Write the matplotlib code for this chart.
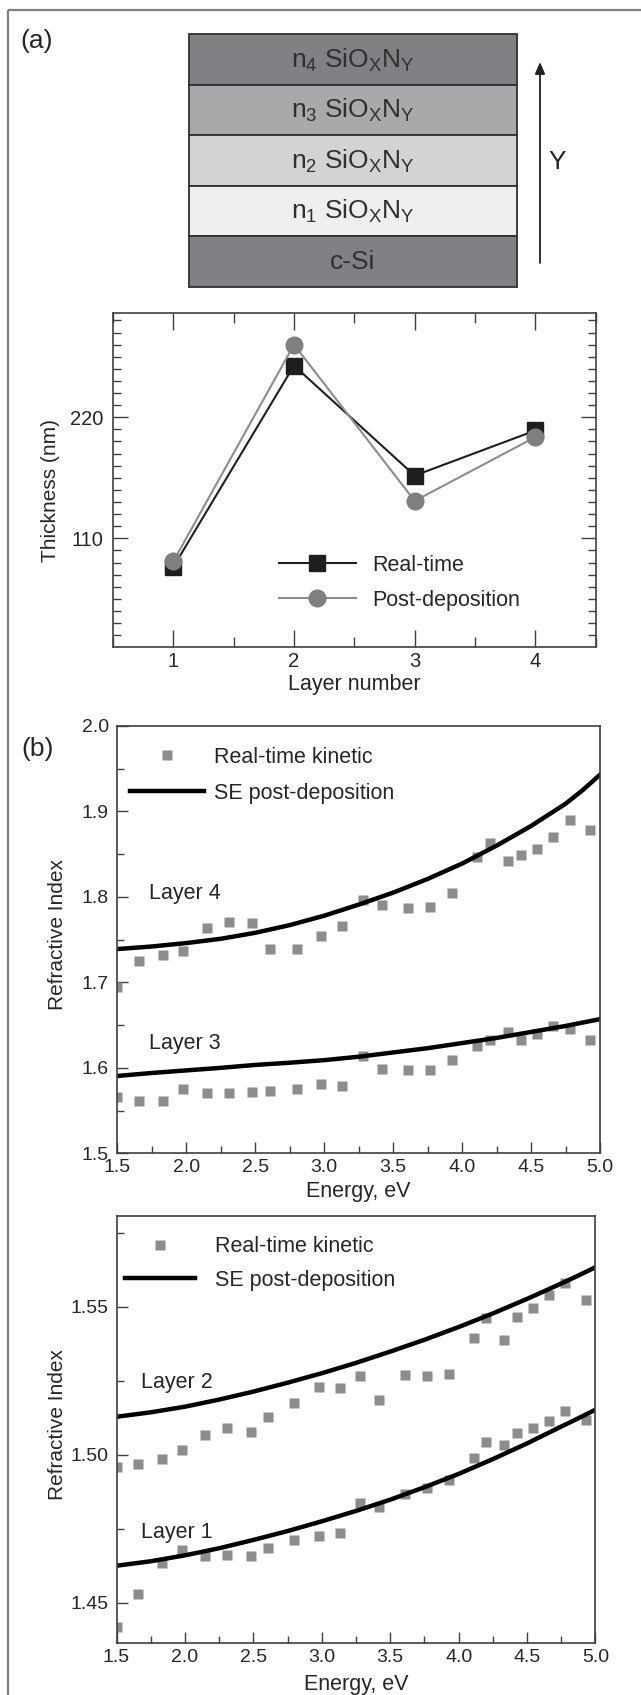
import numpy as np
import matplotlib
matplotlib.use("Agg")
import matplotlib.pyplot as plt
from matplotlib.patches import Rectangle
from matplotlib.ticker import MultipleLocator, FormatStrFormatter

plt.rcParams['font.family'] = ['Liberation Sans', 'DejaVu Sans']
plt.rcParams['mathtext.fontset'] = 'custom'
plt.rcParams['mathtext.rm'] = 'Liberation Sans'
plt.rcParams['mathtext.it'] = 'Liberation Sans:italic'

# ---------------------------------------------------------
# DATA
# ---------------------------------------------------------

stack_labels = [r"n$_4$ SiO$_\mathrm{X}$N$_\mathrm{Y}$",
                r"n$_3$ SiO$_\mathrm{X}$N$_\mathrm{Y}$",
                r"n$_2$ SiO$_\mathrm{X}$N$_\mathrm{Y}$",
                r"n$_1$ SiO$_\mathrm{X}$N$_\mathrm{Y}$",
                "c-Si"]
stack_colors = ["#808184", "#a8a9ab", "#d2d3d5", "#efefef", "#808184"]

layer_num = [1, 2, 3, 4]
thk_realtime = [84, 267, 167, 208]
thk_post = [89, 286, 144, 202]

# real-time kinetic energies (eV)
e_rt = [1.50, 1.66, 1.83, 1.98, 2.15, 2.31, 2.48, 2.61, 2.80, 2.98, 3.13, 3.28,
        3.42, 3.61, 3.77, 3.93, 4.11, 4.20, 4.33, 4.43, 4.54, 4.66, 4.78, 4.93]
n_rt_l4 = [1.695, 1.725, 1.732, 1.737, 1.764, 1.771, 1.770, 1.739, 1.739, 1.754,
           1.766, 1.796, 1.791, 1.787, 1.788, 1.805, 1.847, 1.863, 1.842, 1.849,
           1.856, 1.870, 1.890, 1.878]
n_rt_l3 = [1.566, 1.561, 1.561, 1.575, 1.571, 1.571, 1.572, 1.573, 1.575, 1.581,
           1.579, 1.614, 1.599, 1.598, 1.597, 1.609, 1.625, 1.632, 1.642, 1.633,
           1.640, 1.649, 1.646, 1.633]
n_rt_l2 = [1.4960, 1.4967, 1.4984, 1.5016, 1.5065, 1.5091, 1.5077, 1.5128, 1.5176,
           1.5230, 1.5226, 1.5266, 1.5185, 1.5269, 1.5267, 1.5273, 1.5393, 1.5461,
           1.5387, 1.5466, 1.5494, 1.5539, 1.5579, 1.5523]
n_rt_l1 = [1.4419, 1.4528, 1.4633, 1.4678, 1.4658, 1.4661, 1.4658, 1.4686, 1.4712,
           1.4725, 1.4734, 1.4836, 1.4824, 1.4867, 1.4886, 1.4914, 1.4990, 1.5044,
           1.5033, 1.5072, 1.5091, 1.5115, 1.5148, 1.5117]

# SE post-deposition curves
e_se = [1.50, 1.75, 2.00, 2.25, 2.50, 2.75, 3.00, 3.25, 3.50, 3.75, 4.00, 4.25,
        4.50, 4.75, 4.875, 5.00]
n_se_l4 = [1.739, 1.742, 1.746, 1.751, 1.758, 1.767, 1.778, 1.791, 1.805, 1.821,
           1.839, 1.860, 1.883, 1.909, 1.925, 1.943]
n_se_l3 = [1.5905, 1.594, 1.597, 1.600, 1.6034, 1.606, 1.609, 1.613, 1.618, 1.623,
           1.629, 1.635, 1.642, 1.649, 1.653, 1.657]
n_se_l2 = [1.5128, 1.5143, 1.5162, 1.5186, 1.5213, 1.5243, 1.5275, 1.5310, 1.5348,
           1.5388, 1.5431, 1.5477, 1.5526, 1.5578, 1.5605, 1.5633]
n_se_l1 = [1.4625, 1.4640, 1.4660, 1.4684, 1.4712, 1.4742, 1.4775, 1.4810, 1.4848,
           1.4890, 1.4935, 1.4985, 1.5038, 1.5095, 1.5123, 1.5152]

# ---------------------------------------------------------
# FIGURE
# ---------------------------------------------------------

W, H = 641, 1695
fig = plt.figure(figsize=(W / 100, H / 100), dpi=100)

spine_c = "#404040"
txt_c = "#262626"
sq_gray = "#8c8c8c"


def px_axes(left, top, right, bottom):
    return fig.add_axes([left / W, 1 - bottom / H, (right - left) / W, (bottom - top) / H])


def style_axes(ax, lab=14):
    for s in ax.spines.values():
        s.set_color(spine_c)
        s.set_linewidth(1.2)
    ax.tick_params(which='both', direction='in', color=spine_c, labelsize=lab,
                   labelcolor=txt_c, width=1.0)
    ax.tick_params(which='major', length=8)
    ax.tick_params(which='minor', length=5)


# overlay for schematic and frame
ov = fig.add_axes([0, 0, 1, 1], zorder=-1)
ov.set_xlim(0, W)
ov.set_ylim(H, 0)
ov.axis('off')
ov.plot([8, 8], [10, H], color="#808080", lw=1.6, solid_capstyle='butt')
ov.plot([8, W], [10, 10], color="#808080", lw=1.6, solid_capstyle='butt')
ov.text(37, 41, "(a)", fontsize=19, ha='center', va='center', color=txt_c)
ov.text(38, 749, "(b)", fontsize=19, ha='center', va='center', color=txt_c)

st_left, st_right, st_top, st_h = 189, 517, 34, 50.5
for i, (lab, col) in enumerate(zip(stack_labels, stack_colors)):
    y0 = st_top + i * st_h
    ov.add_patch(Rectangle((st_left, y0), st_right - st_left, st_h, facecolor=col,
                           edgecolor="#303030", lw=1.3))
    ov.text((st_left + st_right) / 2, y0 + st_h / 2 + 1, lab, fontsize=19,
            ha='center', va='center', color="#303030")
ov.annotate("", xy=(540, 62), xytext=(540, 263),
            arrowprops=dict(arrowstyle='-|>,head_length=0.7,head_width=0.3',
                            color="#202020", lw=1.3, shrinkA=0, shrinkB=0))
ov.text(557, 162, "Y", fontsize=19, ha='center', va='center', color=txt_c)

# ---------------------------------------------------------
# THICKNESS PLOT
# ---------------------------------------------------------

ax1 = px_axes(113, 313.3, 595.7, 646.7)
ax1.plot(layer_num, thk_realtime, color="#1e1e1e", lw=1.5, marker='s', ms=11.5,
         mfc="#1e1e1e", mec="#1e1e1e", label="Real-time")
ax1.plot(layer_num, thk_post, color="#8c8c8c", lw=1.5, marker='o', ms=12,
         mfc="#7f7f7f", mec="#7f7f7f", label="Post-deposition")
ax1.set_xlim(0.5, 4.5)
ax1.set_ylim(11.5, 314.5)
ax1.xaxis.set_major_locator(MultipleLocator(1))
ax1.xaxis.set_minor_locator(MultipleLocator(0.5))
ax1.yaxis.set_major_locator(MultipleLocator(110))
ax1.yaxis.set_minor_locator(MultipleLocator(11))
style_axes(ax1, lab=14.5)
ax1.tick_params(which='both', top=True, right=True)
ax1.tick_params(axis='x', which='major', length=12, pad=4)
ax1.tick_params(axis='x', which='minor', length=7)
ax1.tick_params(axis='y', which='major', length=11, pad=7)
ax1.tick_params(axis='y', which='minor', length=6)
ax1.set_xlabel("Layer number", fontsize=15.5, color=txt_c)
ax1.xaxis.set_label_coords(0.5, -0.112)
ax1.xaxis.label.set_va('center')
ax1.set_ylabel("Thickness (nm)", fontsize=15, color=txt_c)
ax1.yaxis.set_label_coords(-0.13, 0.47)
ax1.yaxis.label.set_va('center')
ax1.legend(loc='upper left', bbox_to_anchor=(0.343, 0.275), frameon=False,
           fontsize=15.5, handlelength=3.6, handletextpad=0.75, labelspacing=0.65,
           borderpad=0, borderaxespad=0, labelcolor=txt_c)


# ---------------------------------------------------------
# REFRACTIVE INDEX PLOTS
# ---------------------------------------------------------

def index_panel(ax, n_hi, n_lo, se_hi, se_lo, ylim, ymaj, ymin, lab_hi, lab_lo,
                lab_x, leg_x, leg_hlen, leg_pad, leg_ls, xlab_y):
    ax.plot(e_rt, n_hi, 's', color=sq_gray, ms=7.5, mec='none', label="Real-time kinetic")
    ax.plot(e_rt, n_lo, 's', color=sq_gray, ms=7.5, mec='none')
    ax.plot(e_se, se_hi, '-', color='black', lw=3.2, label="SE post-deposition")
    ax.plot(e_se, se_lo, '-', color='black', lw=3.2)
    ax.set_xlim(1.5, 5.0)
    ax.set_ylim(*ylim)
    ax.xaxis.set_major_locator(MultipleLocator(0.5))
    ax.xaxis.set_minor_locator(MultipleLocator(0.25))
    ax.yaxis.set_major_locator(MultipleLocator(ymaj))
    ax.yaxis.set_minor_locator(MultipleLocator(ymin))
    ax.xaxis.set_major_formatter(FormatStrFormatter('%.1f'))
    style_axes(ax, lab=14)
    ax.tick_params(axis='x', pad=4)
    ax.tick_params(axis='y', pad=6)
    ax.text(lab_x, lab_hi[1], lab_hi[0], fontsize=15.5, va='center', color=txt_c)
    ax.text(lab_x, lab_lo[1], lab_lo[0], fontsize=15.5, va='center', color=txt_c)
    ax.set_xlabel("Energy, eV", fontsize=15.5, color=txt_c)
    ax.xaxis.set_label_coords(0.5, xlab_y)
    ax.xaxis.label.set_va('center')
    ax.set_ylabel("Refractive Index", fontsize=15, color=txt_c)
    ax.yaxis.set_label_coords(-0.124, 0.512)
    ax.yaxis.label.set_va('center')
    ax.legend(loc='upper left', bbox_to_anchor=(leg_x, 0.952), frameon=False,
              fontsize=15.5, handlelength=leg_hlen, handletextpad=leg_pad,
              labelspacing=leg_ls, borderpad=0, borderaxespad=0, numpoints=1,
              labelcolor=txt_c)


ax2 = px_axes(117.3, 726, 600, 1153.3)
index_panel(ax2, n_rt_l4, n_rt_l3, n_se_l4, n_se_l3, (1.5, 2.0), 0.1, 0.05,
            ("Layer 4", 1.804), ("Layer 3", 1.629), 1.73,
            0.026, 3.45, 0.45, 0.72, -0.09)

ax3 = px_axes(116.5, 1215.7, 595.5, 1643.3)
index_panel(ax3, n_rt_l2, n_rt_l1, n_se_l2, n_se_l1, (1.4363, 1.5807), 0.05, 0.025,
            ("Layer 2", 1.5243), ("Layer 1", 1.4736), 1.68,
            0.017, 3.25, 0.95, 0.58, -0.0975)

fig.savefig("out.png", dpi=100)
